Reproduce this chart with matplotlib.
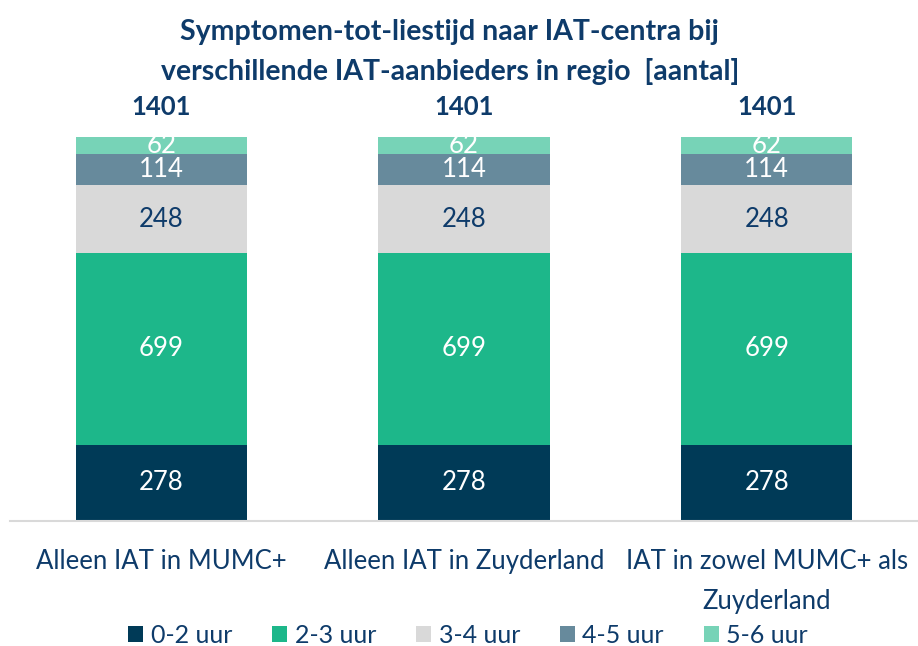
import numpy as np
import matplotlib.pyplot as plt

plt.rcParams['font.family'] = ['Lato', 'DejaVu Sans']

# data
categories = ["Alleen IAT in MUMC+", "Alleen IAT in Zuyderland",
              "IAT in zowel MUMC+ als\nZuyderland"]
series = ["0-2 uur", "2-3 uur", "3-4 uur", "4-5 uur", "5-6 uur"]
values = [
    [278, 278, 278],
    [699, 699, 699],
    [248, 248, 248],
    [114, 114, 114],
    [62, 62, 62],
]
totals = [1401, 1401, 1401]

colors = ["#003A57", "#1DB78A", "#D9D9D9", "#678A9C", "#77D3B7"]
label_colors = ["white", "white", "#0E3B6A", "white", "white"]
navy = "#0E3B6A"

fig = plt.figure(figsize=(9.18, 6.46), dpi=100)
ax = fig.add_axes([10/918, 125/646, 908/918, 426/646])

x = np.arange(len(categories))
bottom = np.zeros(len(categories))
for i, s in enumerate(series):
    v = np.array(values[i])
    ax.bar(x, v, 0.565, bottom=bottom, color=colors[i], label=s)
    for xi, vi, bi in zip(x, v, bottom):
        ax.text(xi, bi + vi/2, str(vi), ha='center', va='center',
                fontsize=18.5, color=label_colors[i])
    bottom += v

for xi, t in zip(x, totals):
    ax.text(xi, t + 110, str(t), ha='center', va='center', fontsize=18.5,
            fontweight='bold', color=navy)

ax.set_xlim(-0.5, 2.5)
ax.set_ylim(0, 1554)
ax.set_yticks([])
ax.set_xticks(x)
ax.set_xticklabels(categories, fontsize=18.5, color=navy, linespacing=1.75)
ax.tick_params(axis='x', length=0, pad=20)
for sp in ['top', 'right', 'left']:
    ax.spines[sp].set_visible(False)
ax.spines['bottom'].set_color('#D9D9D9')
ax.spines['bottom'].set_linewidth(1.5)

fig.text(0.49, 0.92, "Symptomen-tot-liestijd naar IAT-centra bij\n"
         "verschillende IAT-aanbieders in regio  [aantal]",
         ha='center', va='center', fontsize=20.5, fontweight='bold',
         color=navy, linespacing=1.6)

leg = fig.legend(loc='center', bbox_to_anchor=(0.51, 0.017), ncol=5,
                 frameon=False, fontsize=18, handlelength=0.6,
                 handleheight=0.6, handletextpad=0.3, columnspacing=1.6)
for t in leg.get_texts():
    t.set_color(navy)

fig.savefig("out.png", dpi=100)
